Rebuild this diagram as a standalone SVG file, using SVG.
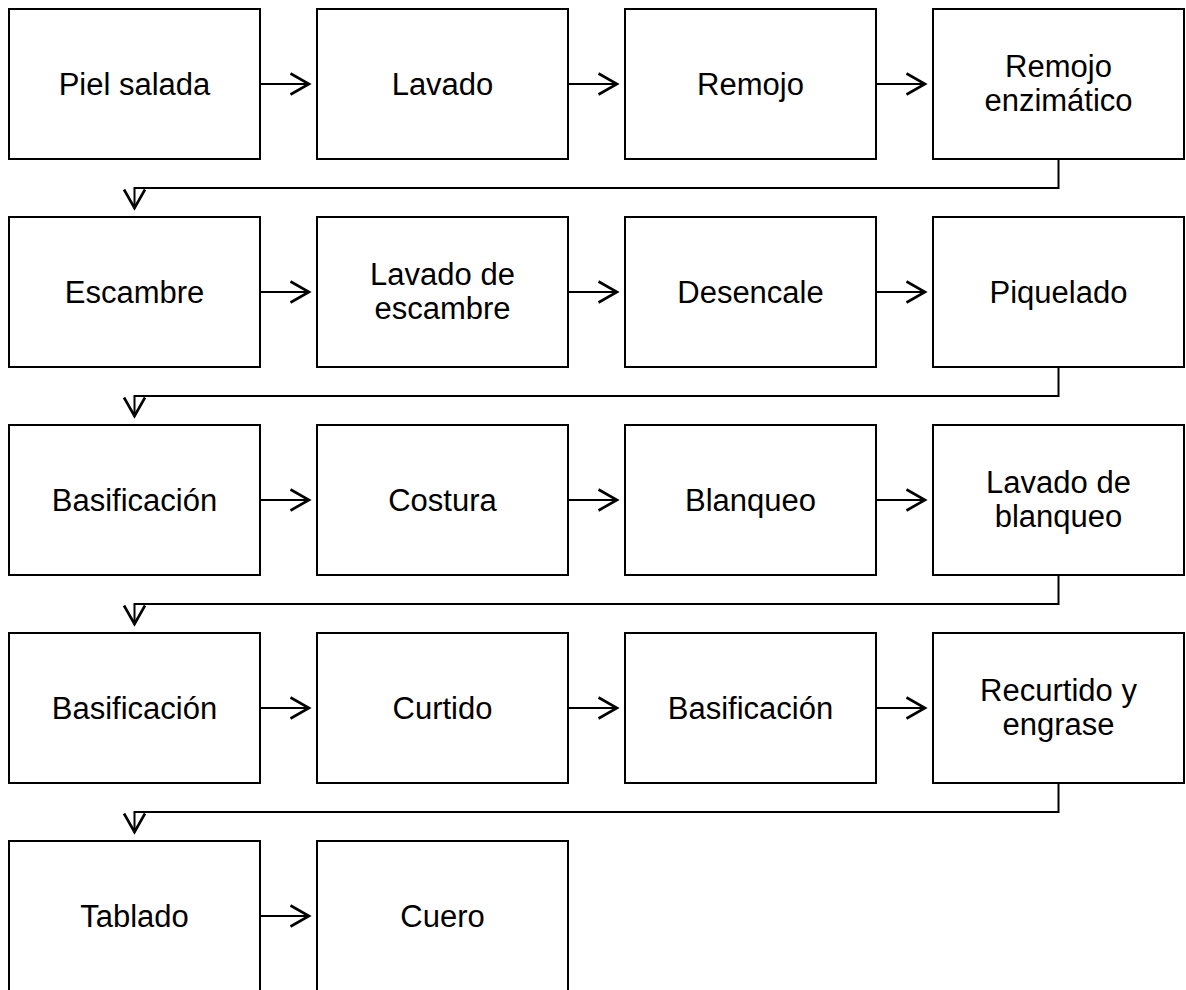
<svg xmlns="http://www.w3.org/2000/svg" width="1186" height="990" viewBox="0 0 1186 990">
<style>
.box{fill:#fff;stroke:#000;stroke-width:2}
.lbl{font-family:"Liberation Sans",Arial,sans-serif;font-size:31px;fill:#000;text-anchor:middle}
.con{fill:none;stroke:#000;stroke-width:2}
</style>
<defs>
<marker id="ah" markerUnits="userSpaceOnUse" viewBox="-2 -2 24 26" markerWidth="24" markerHeight="26" refX="19" refY="11" orient="auto">
<path d="M0.5,0.5 L19,11 L0.5,21.5" fill="none" stroke="#000" stroke-width="2.6"/>
</marker>
</defs>
<rect width="1186" height="990" fill="#fff"/>
<g id="connectors">
<path class="con" d="M260,84 H309" marker-end="url(#ah)"/>
<path class="con" d="M568,84 H617" marker-end="url(#ah)"/>
<path class="con" d="M876,84 H925" marker-end="url(#ah)"/>
<path class="con" d="M1058.5,159 V188 H134.5 V208" marker-end="url(#ah)"/>
<path class="con" d="M260,292 H309" marker-end="url(#ah)"/>
<path class="con" d="M568,292 H617" marker-end="url(#ah)"/>
<path class="con" d="M876,292 H925" marker-end="url(#ah)"/>
<path class="con" d="M1058.5,367 V396 H134.5 V416" marker-end="url(#ah)"/>
<path class="con" d="M260,500 H309" marker-end="url(#ah)"/>
<path class="con" d="M568,500 H617" marker-end="url(#ah)"/>
<path class="con" d="M876,500 H925" marker-end="url(#ah)"/>
<path class="con" d="M1058.5,575 V604 H134.5 V624" marker-end="url(#ah)"/>
<path class="con" d="M260,708 H309" marker-end="url(#ah)"/>
<path class="con" d="M568,708 H617" marker-end="url(#ah)"/>
<path class="con" d="M876,708 H925" marker-end="url(#ah)"/>
<path class="con" d="M1058.5,783 V812 H134.5 V832" marker-end="url(#ah)"/>
<path class="con" d="M260,916 H309" marker-end="url(#ah)"/>
</g>
<g id="n1"><rect class="box" x="9" y="9" width="251" height="150"/><text class="lbl" x="134.5" y="94.5">Piel salada</text></g>
<g id="n2"><rect class="box" x="317" y="9" width="251" height="150"/><text class="lbl" x="442.5" y="94.5">Lavado</text></g>
<g id="n3"><rect class="box" x="625" y="9" width="251" height="150"/><text class="lbl" x="750.5" y="94.5">Remojo</text></g>
<g id="n4"><rect class="box" x="933" y="9" width="251" height="150"/><text class="lbl" x="1058.5" y="77">Remojo</text><text class="lbl" x="1058.5" y="111">enzimático</text></g>
<g id="n5"><rect class="box" x="9" y="217" width="251" height="150"/><text class="lbl" x="134.5" y="302.5">Escambre</text></g>
<g id="n6"><rect class="box" x="317" y="217" width="251" height="150"/><text class="lbl" x="442.5" y="285">Lavado de</text><text class="lbl" x="442.5" y="319">escambre</text></g>
<g id="n7"><rect class="box" x="625" y="217" width="251" height="150"/><text class="lbl" x="750.5" y="302.5">Desencale</text></g>
<g id="n8"><rect class="box" x="933" y="217" width="251" height="150"/><text class="lbl" x="1058.5" y="302.5">Piquelado</text></g>
<g id="n9"><rect class="box" x="9" y="425" width="251" height="150"/><text class="lbl" x="134.5" y="510.5">Basificación</text></g>
<g id="n10"><rect class="box" x="317" y="425" width="251" height="150"/><text class="lbl" x="442.5" y="510.5">Costura</text></g>
<g id="n11"><rect class="box" x="625" y="425" width="251" height="150"/><text class="lbl" x="750.5" y="510.5">Blanqueo</text></g>
<g id="n12"><rect class="box" x="933" y="425" width="251" height="150"/><text class="lbl" x="1058.5" y="493">Lavado de</text><text class="lbl" x="1058.5" y="527">blanqueo</text></g>
<g id="n13"><rect class="box" x="9" y="633" width="251" height="150"/><text class="lbl" x="134.5" y="718.5">Basificación</text></g>
<g id="n14"><rect class="box" x="317" y="633" width="251" height="150"/><text class="lbl" x="442.5" y="718.5">Curtido</text></g>
<g id="n15"><rect class="box" x="625" y="633" width="251" height="150"/><text class="lbl" x="750.5" y="718.5">Basificación</text></g>
<g id="n16"><rect class="box" x="933" y="633" width="251" height="150"/><text class="lbl" x="1058.5" y="701">Recurtido y</text><text class="lbl" x="1058.5" y="735">engrase</text></g>
<g id="n17"><rect class="box" x="9" y="841" width="251" height="150"/><text class="lbl" x="134.5" y="926.5">Tablado</text></g>
<g id="n18"><rect class="box" x="317" y="841" width="251" height="150"/><text class="lbl" x="442.5" y="926.5">Cuero</text></g>
</svg>
